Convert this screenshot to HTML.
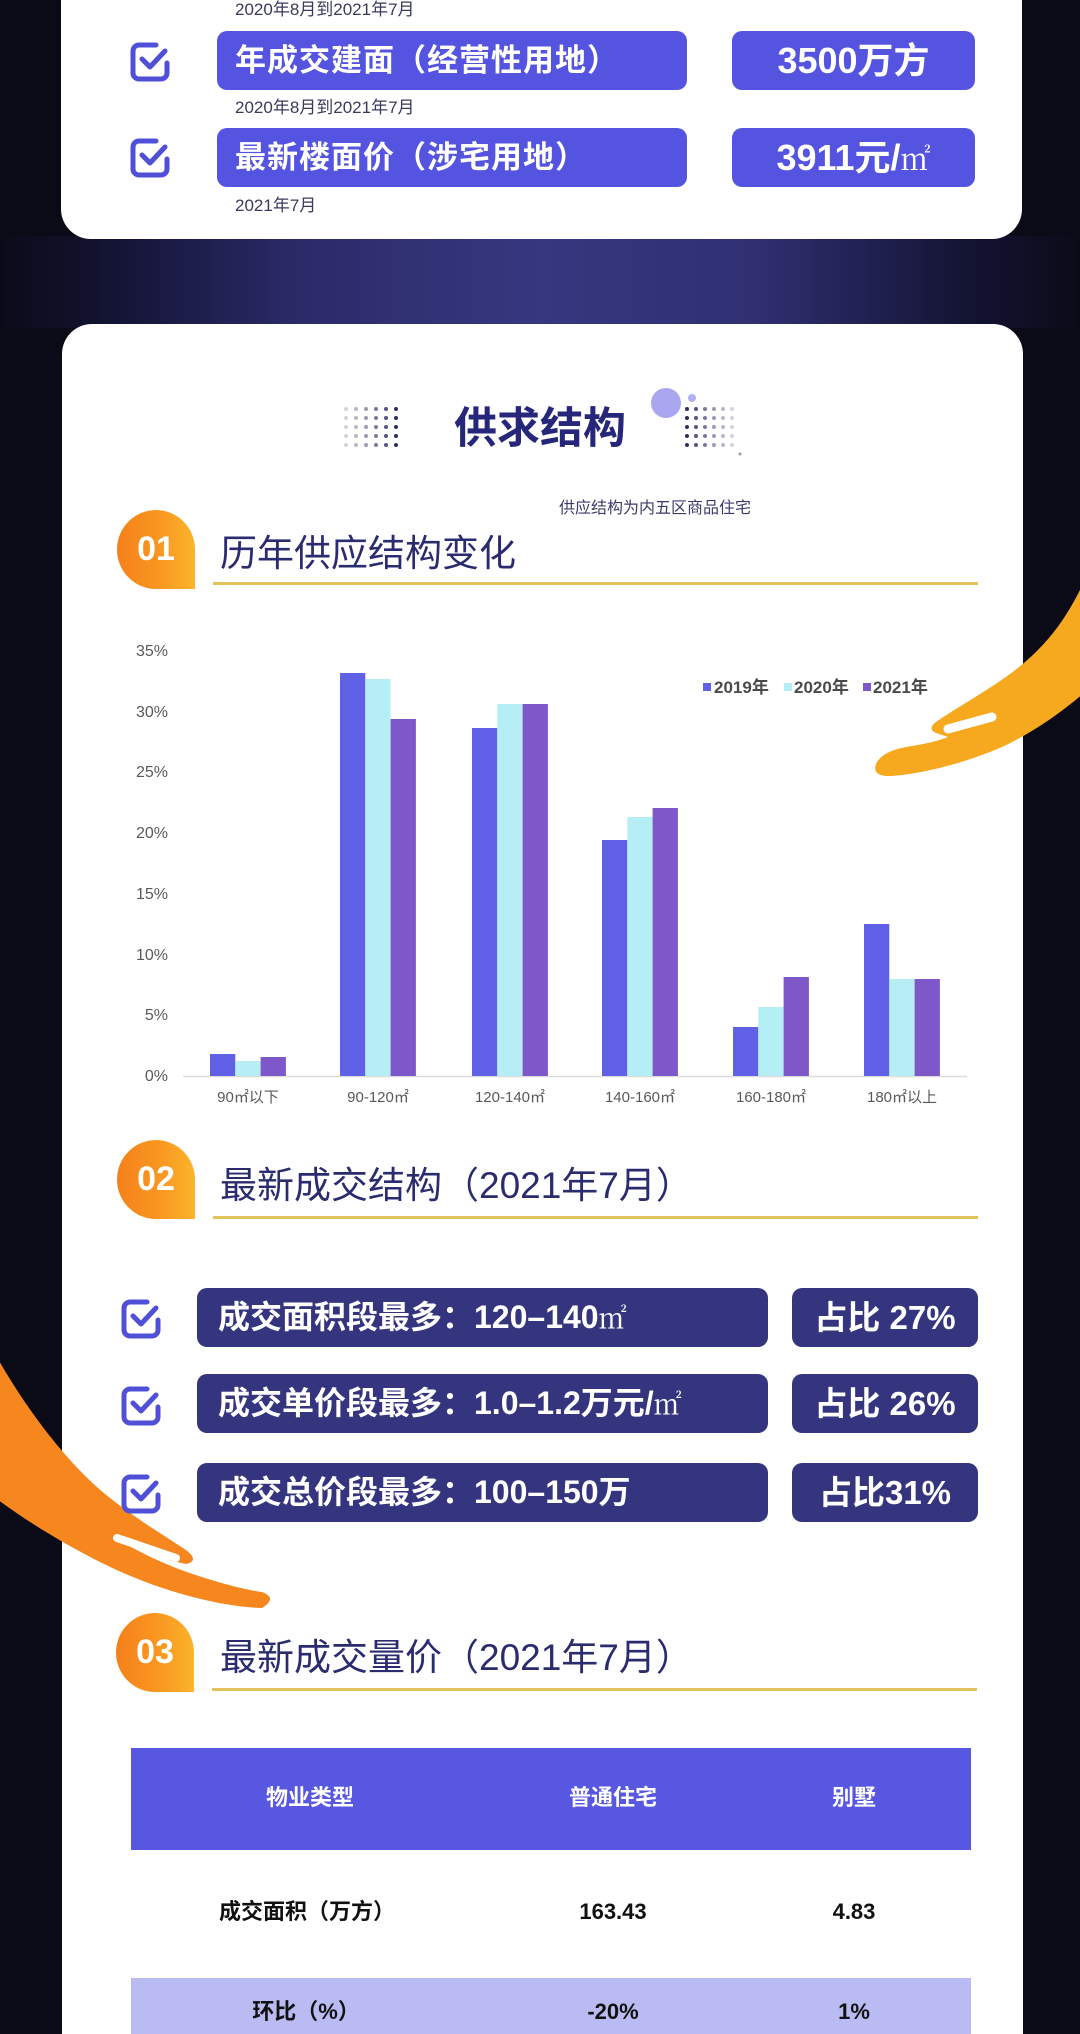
<!DOCTYPE html>
<html lang="zh">
<head>
<meta charset="utf-8">
<style>
  html,body{margin:0;padding:0;width:1080px;height:2034px;overflow:hidden;background:#0b0b18;}
  #wrap{position:relative;width:1080px;height:2034px;overflow:hidden;background:#0b0b18;
       font-family:"Liberation Sans","Noto Sans CJK SC",sans-serif;}
  .abs{position:absolute;}
  .glow{left:0;top:236px;width:1080px;height:92px;
        background:linear-gradient(90deg,#0b0b18 0%,#131333 10%,#2b2b6a 28%,#37377f 50%,#2f2f72 70%,#131332 90%,#0b0b18 100%);}
  .card{background:#fff;border-radius:30px;}
  .sub{font-size:17px;color:#3a3a5c;line-height:20px;white-space:nowrap;z-index:3;}
  .pill1{background:#5454e0;border-radius:10px;color:#fff;font-weight:bold;white-space:nowrap;z-index:3;}
  .pill2{background:#35357f;border-radius:10px;color:#fff;font-weight:bold;white-space:nowrap;z-index:3;}
  .sq{font-family:"Liberation Serif","Noto Serif CJK SC",serif;font-weight:normal;}
  .badge{width:78px;height:79px;border-radius:50% 50% 0 50%;
         background:linear-gradient(90deg,#f6801b 0%,#f99a22 60%,#fbb42b 100%);
         color:#fff;font-weight:bold;font-size:34px;line-height:79px;text-align:center;z-index:3;}
  .stitle{font-size:37px;color:#2b2b70;line-height:44px;white-space:nowrap;z-index:3;}
  .uline{height:3px;background:#e3c25c;z-index:3;}
  .tcell{font-size:22px;font-weight:bold;line-height:30px;text-align:center;white-space:nowrap;z-index:3;}
</style>
</head>
<body>
<div id="wrap">

<div class="abs glow"></div>

<!-- cards -->
<div class="abs card" style="left:61px;top:-40px;width:961px;height:279px;"></div>
<div class="abs card" style="left:62px;top:324px;width:961px;height:1780px;"></div>

<!-- graphics layer -->
<svg class="abs" style="left:0;top:0;z-index:2" width="1080" height="2034" viewBox="0 0 1080 2034">
  <!-- title dots left -->
  <g>
    <circle cx="346" cy="409" r="2" fill="#d4d4dc"/><circle cx="356" cy="409" r="2" fill="#b8b8c8"/><circle cx="366" cy="409" r="2" fill="#9a9ab4"/><circle cx="376" cy="409" r="2" fill="#7a7a9c"/><circle cx="386" cy="409" r="2" fill="#55557e"/><circle cx="396" cy="409" r="2" fill="#2e2e64"/>
    <circle cx="346" cy="418" r="2" fill="#d4d4dc"/><circle cx="356" cy="418" r="2" fill="#b8b8c8"/><circle cx="366" cy="418" r="2" fill="#9a9ab4"/><circle cx="376" cy="418" r="2" fill="#7a7a9c"/><circle cx="386" cy="418" r="2" fill="#55557e"/><circle cx="396" cy="418" r="2" fill="#2e2e64"/>
    <circle cx="346" cy="427" r="2" fill="#d4d4dc"/><circle cx="356" cy="427" r="2" fill="#b8b8c8"/><circle cx="366" cy="427" r="2" fill="#9a9ab4"/><circle cx="376" cy="427" r="2" fill="#7a7a9c"/><circle cx="386" cy="427" r="2" fill="#55557e"/><circle cx="396" cy="427" r="2" fill="#2e2e64"/>
    <circle cx="346" cy="436" r="2" fill="#d4d4dc"/><circle cx="356" cy="436" r="2" fill="#b8b8c8"/><circle cx="366" cy="436" r="2" fill="#9a9ab4"/><circle cx="376" cy="436" r="2" fill="#7a7a9c"/><circle cx="386" cy="436" r="2" fill="#55557e"/><circle cx="396" cy="436" r="2" fill="#2e2e64"/>
    <circle cx="346" cy="445" r="2" fill="#d4d4dc"/><circle cx="356" cy="445" r="2" fill="#b8b8c8"/><circle cx="366" cy="445" r="2" fill="#9a9ab4"/><circle cx="376" cy="445" r="2" fill="#7a7a9c"/><circle cx="386" cy="445" r="2" fill="#55557e"/><circle cx="396" cy="445" r="2" fill="#2e2e64"/>
  </g>
  <!-- title dots right -->
  <g>
    <circle cx="687" cy="409" r="2" fill="#2e2e64"/><circle cx="696" cy="409" r="2" fill="#55557e"/><circle cx="705" cy="409" r="2" fill="#7a7a9c"/><circle cx="714" cy="409" r="2" fill="#9a9ab4"/><circle cx="723" cy="409" r="2" fill="#b8b8c8"/><circle cx="732" cy="409" r="2" fill="#d4d4dc"/>
    <circle cx="687" cy="418" r="2" fill="#2e2e64"/><circle cx="696" cy="418" r="2" fill="#55557e"/><circle cx="705" cy="418" r="2" fill="#7a7a9c"/><circle cx="714" cy="418" r="2" fill="#9a9ab4"/><circle cx="723" cy="418" r="2" fill="#b8b8c8"/><circle cx="732" cy="418" r="2" fill="#d4d4dc"/>
    <circle cx="687" cy="427" r="2" fill="#2e2e64"/><circle cx="696" cy="427" r="2" fill="#55557e"/><circle cx="705" cy="427" r="2" fill="#7a7a9c"/><circle cx="714" cy="427" r="2" fill="#9a9ab4"/><circle cx="723" cy="427" r="2" fill="#b8b8c8"/><circle cx="732" cy="427" r="2" fill="#d4d4dc"/>
    <circle cx="687" cy="436" r="2" fill="#2e2e64"/><circle cx="696" cy="436" r="2" fill="#55557e"/><circle cx="705" cy="436" r="2" fill="#7a7a9c"/><circle cx="714" cy="436" r="2" fill="#9a9ab4"/><circle cx="723" cy="436" r="2" fill="#b8b8c8"/><circle cx="732" cy="436" r="2" fill="#d4d4dc"/>
    <circle cx="687" cy="445" r="2" fill="#2e2e64"/><circle cx="696" cy="445" r="2" fill="#55557e"/><circle cx="705" cy="445" r="2" fill="#7a7a9c"/><circle cx="714" cy="445" r="2" fill="#9a9ab4"/><circle cx="723" cy="445" r="2" fill="#b8b8c8"/><circle cx="732" cy="445" r="2" fill="#d4d4dc"/>
  </g>
  <circle cx="666" cy="403" r="15" fill="#aaa7f0"/>
  <circle cx="692" cy="398" r="4" fill="#b3b0f2"/>
  <circle cx="740" cy="454" r="1.5" fill="#9a9ab0"/>

  <!-- chart -->
  <g font-family="Liberation Sans, Noto Sans CJK SC, sans-serif" font-size="16" fill="#595959" text-anchor="end">
    <text x="168" y="656">35%</text>
    <text x="168" y="717">30%</text>
    <text x="168" y="777">25%</text>
    <text x="168" y="838">20%</text>
    <text x="168" y="899">15%</text>
    <text x="168" y="960">10%</text>
    <text x="168" y="1020">5%</text>
    <text x="168" y="1081">0%</text>
  </g>
  <line x1="183" y1="1076.5" x2="967" y2="1076.5" stroke="#dcdcdc" stroke-width="1.5"/>
  <g>
    <rect x="210" y="1054" width="25.3" height="22" fill="#6161e8"/>
    <rect x="235.3" y="1061" width="25.3" height="15" fill="#b5eff5"/>
    <rect x="260.6" y="1057" width="25.3" height="19" fill="#7e58c8"/>

    <rect x="340" y="673" width="25.3" height="403" fill="#6161e8"/>
    <rect x="365.3" y="679" width="25.3" height="397" fill="#b5eff5"/>
    <rect x="390.6" y="719" width="25.3" height="357" fill="#7e58c8"/>

    <rect x="472" y="728" width="25.3" height="348" fill="#6161e8"/>
    <rect x="497.3" y="704" width="25.3" height="372" fill="#b5eff5"/>
    <rect x="522.6" y="704" width="25.3" height="372" fill="#7e58c8"/>

    <rect x="602" y="840" width="25.3" height="236" fill="#6161e8"/>
    <rect x="627.3" y="817" width="25.3" height="259" fill="#b5eff5"/>
    <rect x="652.6" y="808" width="25.3" height="268" fill="#7e58c8"/>

    <rect x="733" y="1027" width="25.3" height="49" fill="#6161e8"/>
    <rect x="758.3" y="1007" width="25.3" height="69" fill="#b5eff5"/>
    <rect x="783.6" y="977" width="25.3" height="99" fill="#7e58c8"/>

    <rect x="864" y="924" width="25.3" height="152" fill="#6161e8"/>
    <rect x="889.3" y="979" width="25.3" height="97" fill="#b5eff5"/>
    <rect x="914.6" y="979" width="25.3" height="97" fill="#7e58c8"/>
  </g>
  <g font-family="Liberation Sans, Noto Sans CJK SC, sans-serif" font-size="15" fill="#595959" text-anchor="middle">
    <text x="248" y="1102">90㎡以下</text>
    <text x="378" y="1102">90-120㎡</text>
    <text x="510" y="1102">120-140㎡</text>
    <text x="640" y="1102">140-160㎡</text>
    <text x="771" y="1102">160-180㎡</text>
    <text x="902" y="1102">180㎡以上</text>
  </g>
  <!-- legend -->
  <g font-family="Liberation Sans, Noto Sans CJK SC, sans-serif" font-size="17" font-weight="bold" fill="#4a4a4a">
    <rect x="703" y="683" width="8" height="8" fill="#6161e8"/>
    <text x="714" y="693">2019年</text>
    <rect x="784" y="683" width="8" height="8" fill="#b5eff5"/>
    <text x="794" y="693">2020年</text>
    <rect x="863" y="683" width="8" height="8" fill="#7e58c8"/>
    <text x="873" y="693">2021年</text>
  </g>

  <!-- right orange swoosh -->
  <path d="M1090 585 L1090 688 C1062 712 1030 736 990 752 C952 767 912 775 890 776 Q870 776 877 762 Q884 751 906 747 C925 744 938 741 948 737 L936 733 Q927 729 936 722 C962 704 1000 684 1025 662 C1046 644 1064 622 1080 590 Z" fill="#f6a81f"/>
  <line x1="948" y1="729" x2="992" y2="717" stroke="#ffffff" stroke-width="9" stroke-linecap="round"/>

  <!-- left orange swoosh -->
  <path d="M-6 1352 C22 1402 58 1452 98 1488 C128 1514 162 1534 186 1550 Q200 1561 186 1564 L172 1561 L120 1541 C150 1558 178 1570 205 1578 C230 1586 248 1590 262 1592 Q278 1598 262 1608 C222 1607 160 1592 102 1563 C60 1542 22 1518 -6 1497 Z" fill="#f6861e"/>
  <line x1="117" y1="1538" x2="176" y2="1558" stroke="#ffffff" stroke-width="8" stroke-linecap="round"/>

  <!-- checkboxes -->
  <g fill="none" stroke="#4f4fd8" stroke-width="5" stroke-linecap="round" stroke-linejoin="round">
    <g transform="translate(129,41)">
      <path d="M27 4 H10 A6 6 0 0 0 4 10 V32 A6 6 0 0 0 10 38 H32 A6 6 0 0 0 38 32 V22"/>
      <path d="M13 18 L21 26 L36 10"/>
    </g>
    <g transform="translate(129,137)">
      <path d="M27 4 H10 A6 6 0 0 0 4 10 V32 A6 6 0 0 0 10 38 H32 A6 6 0 0 0 38 32 V22"/>
      <path d="M13 18 L21 26 L36 10"/>
    </g>
    <g transform="translate(120,1298)">
      <path d="M27 4 H10 A6 6 0 0 0 4 10 V32 A6 6 0 0 0 10 38 H32 A6 6 0 0 0 38 32 V22"/>
      <path d="M13 18 L21 26 L36 10"/>
    </g>
    <g transform="translate(120,1385)">
      <path d="M27 4 H10 A6 6 0 0 0 4 10 V32 A6 6 0 0 0 10 38 H32 A6 6 0 0 0 38 32 V22"/>
      <path d="M13 18 L21 26 L36 10"/>
    </g>
    <g transform="translate(120,1473)">
      <path d="M27 4 H10 A6 6 0 0 0 4 10 V32 A6 6 0 0 0 10 38 H32 A6 6 0 0 0 38 32 V22"/>
      <path d="M13 18 L21 26 L36 10"/>
    </g>
  </g>
</svg>

<!-- card 1 content -->
<div class="abs sub" style="left:235px;top:0px;">2020年8月到2021年7月</div>
<div class="abs pill1" style="left:217px;top:31px;width:470px;height:59px;line-height:59px;font-size:31px;letter-spacing:1px;padding-left:18px;box-sizing:border-box;">年成交建面（经营性用地）</div>
<div class="abs pill1" style="left:732px;top:31px;width:243px;height:59px;line-height:59px;font-size:36px;text-align:center;">3500万方</div>
<div class="abs sub" style="left:235px;top:98px;">2020年8月到2021年7月</div>
<div class="abs pill1" style="left:217px;top:128px;width:470px;height:59px;line-height:59px;font-size:31px;letter-spacing:1px;padding-left:18px;box-sizing:border-box;">最新楼面价（涉宅用地）</div>
<div class="abs pill1" style="left:732px;top:128px;width:243px;height:59px;line-height:59px;font-size:36px;text-align:center;">3911元/<span class="sq" style="font-size:30px;">㎡</span></div>
<div class="abs sub" style="left:235px;top:196px;">2021年7月</div>

<!-- card 2 header -->
<div class="abs" style="left:440px;top:401px;width:200px;text-align:center;font-size:43px;font-weight:bold;color:#26267a;line-height:56px;z-index:3;">供求结构</div>
<div class="abs" style="left:559px;top:499px;font-size:16px;color:#3b3b6b;line-height:20px;white-space:nowrap;z-index:3;">供应结构为内五区商品住宅</div>

<!-- section 01 -->
<div class="abs badge" style="left:117px;top:510px;">01</div>
<div class="abs stitle" style="left:220px;top:532px;">历年供应结构变化</div>
<div class="abs uline" style="left:213px;top:582px;width:765px;"></div>

<!-- section 02 -->
<div class="abs badge" style="left:117px;top:1140px;">02</div>
<div class="abs stitle" style="left:220px;top:1164px;">最新成交结构（2021年7月）</div>
<div class="abs uline" style="left:213px;top:1216px;width:765px;"></div>

<div class="abs pill2" style="left:197px;top:1288px;width:571px;height:59px;line-height:59px;font-size:32px;padding-left:21px;box-sizing:border-box;">成交面积段最多：120–140<span class="sq" style="font-size:28px;">㎡</span></div>
<div class="abs pill2" style="left:792px;top:1288px;width:186px;height:59px;line-height:59px;font-size:33px;text-align:center;">占比 27%</div>

<div class="abs pill2" style="left:197px;top:1374px;width:571px;height:59px;line-height:59px;font-size:32px;padding-left:21px;box-sizing:border-box;">成交单价段最多：1.0–1.2万元/<span class="sq" style="font-size:28px;">㎡</span></div>
<div class="abs pill2" style="left:792px;top:1374px;width:186px;height:59px;line-height:59px;font-size:33px;text-align:center;">占比 26%</div>

<div class="abs pill2" style="left:197px;top:1463px;width:571px;height:59px;line-height:59px;font-size:32px;padding-left:21px;box-sizing:border-box;">成交总价段最多：100–150万</div>
<div class="abs pill2" style="left:792px;top:1463px;width:186px;height:59px;line-height:59px;font-size:33px;text-align:center;">占比31%</div>

<!-- section 03 -->
<div class="abs badge" style="left:116px;top:1613px;">03</div>
<div class="abs stitle" style="left:220px;top:1636px;">最新成交量价（2021年7月）</div>
<div class="abs uline" style="left:212px;top:1688px;width:765px;"></div>

<!-- table -->
<div class="abs" style="left:131px;top:1748px;width:840px;height:102px;background:#5757e1;z-index:2;"></div>
<div class="abs" style="left:131px;top:1978px;width:840px;height:56px;background:#bbbbf3;z-index:2;"></div>

<div class="abs tcell" style="left:210px;top:1783px;width:200px;color:#fff;">物业类型</div>
<div class="abs tcell" style="left:513px;top:1783px;width:200px;color:#fff;">普通住宅</div>
<div class="abs tcell" style="left:754px;top:1783px;width:200px;color:#fff;">别墅</div>

<div class="abs tcell" style="left:207px;top:1897px;width:200px;color:#111;">成交面积（万方）</div>
<div class="abs tcell" style="left:513px;top:1897px;width:200px;color:#111;">163.43</div>
<div class="abs tcell" style="left:754px;top:1897px;width:200px;color:#111;">4.83</div>

<div class="abs tcell" style="left:206px;top:1997px;width:200px;color:#111;">环比（%）</div>
<div class="abs tcell" style="left:513px;top:1997px;width:200px;color:#111;">-20%</div>
<div class="abs tcell" style="left:754px;top:1997px;width:200px;color:#111;">1%</div>

</div>
</body>
</html>
